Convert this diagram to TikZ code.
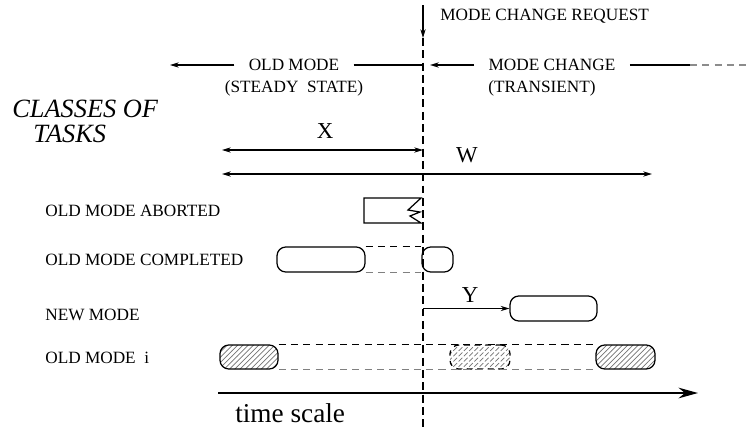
\documentclass[tikz,border=0pt]{standalone}
\usepackage{fontspec}
\setmainfont{Liberation Serif}
\usetikzlibrary{arrows.meta, patterns}

\begin{document}
\begin{tikzpicture}[
  x=0.02cm, y=-0.02cm,
  lbl/.style={inner sep=0pt, font=\fontsize{9.8}{11}\selectfont},
  gap/.style={lbl, inner xsep=8pt},
  big/.style={inner sep=0pt, font=\fontsize{13}{15}\selectfont},
  task/.style={draw, rounded corners=5pt, line width=0.7pt, minimum height=0.5cm, inner sep=0pt},
  hatched/.style={task, minimum height=0.48cm, pattern=north east lines, pattern color=black!55},
  arr/.style={-{Stealth[length=5pt,width=3pt]}, line width=0.6pt},
  darr/.style={{Stealth[length=5pt,width=3pt]}-{Stealth[length=5pt,width=3pt]}, line width=0.6pt},
  vdash/.style={line width=1.6pt, dash pattern=on 4.5pt off 2.5pt},
  gdash/.style={line width=0.6pt, dash pattern=on 4pt off 3pt}
]
\useasboundingbox (0,0) rectangle (750,430);

% mode change request and the dashed time instant
\node[lbl, anchor=west] (req) at (440,16) {MODE CHANGE REQUEST};
\coordinate (top) at (423,5);
\coordinate (mc) at (423,38);
\coordinate (bot) at (423,430);
\draw[arr] (top) -- (mc);
\draw[vdash] (mc) -- (bot);

% old mode / mode change headings
\node[gap] (old) at (294,65) {OLD MODE};
\node[lbl] (steady) at (294,88) {(STEADY\ \ STATE)};
\node[gap] (chg) at (552,65) {MODE CHANGE};
\node[lbl] (trans) at (542,88) {(TRANSIENT)};
\coordinate (oldL) at (170,65);
\coordinate (chgR) at (690,65);
\coordinate (chgE) at (750,65);
\draw[arr] (old.west) -- (oldL);
\draw[line width=0.6pt] (old.east) -- (old.east -| mc);
\draw[arr, line width=1.3pt] (chg.west) -- ([xshift=4pt]chg.west -| mc);
\draw[line width=1.3pt] (chg.east) -- (chgR);
\draw[gdash, black!45] (chgR) -- (chgE);

\node[big, font=\itshape\fontsize{15}{16}\selectfont, align=left, anchor=north west] (classes) at (12,100) {CLASSES OF\\[-2pt]\hspace*{0.8em}TASKS};

% intervals X and W
\coordinate (xl) at (222,150);
\coordinate (wl) at (222,174);
\coordinate (wr) at (652,174);
\node[big] (X) at (325,131) {X};
\node[big] (W) at (467,155) {W};
\draw[darr] (xl) -- (xl -| mc);
\draw[darr, line width=1.4pt] (wl) -- (wr);

% classes of tasks
\node[lbl, anchor=west] (abort) at (45,211) {OLD MODE ABORTED};
\node[lbl, anchor=west] (compl) at (45,260) {OLD MODE COMPLETED};
\node[lbl, anchor=west] (new) at (45,315) {NEW MODE};
\node[lbl, anchor=west] (oldi) at (45,358) {OLD MODE\ \ i};

% aborted job
\draw[line width=0.7pt] (421,198) -- (364,198) -- (364,223) -- (421,223)
  -- (410,216) -- (420,212) -- (408,210) -- cycle;

% completed job
\node[task, minimum width=1.76cm] (c1) at (321,259.5) {};
\node[task, minimum width=0.62cm] (c2) at (437.5,259.5) {};
\draw[gdash] (c1.north east) -- (c2.north west);
\draw[gdash, black!50] (c1.south east) -- (c2.south west);

% new mode job
\node[task, minimum width=1.74cm] (nm) at (553.5,308.5) {};
\draw[arr] (nm.west -| mc) -- (nm.west);
\node[big] (Y) at (470,295) {Y};

% periodic old mode task
\node[hatched, minimum width=1.16cm] (b1) at (249,357) {};
\node[hatched, minimum width=1.2cm, dashed] (b2) at (480,357) {};
\node[hatched, minimum width=1.18cm] (b3) at (625.5,357) {};
\draw[gdash] (b1.north east) -- (b3.north west);
\draw[gdash, black!50] (b1.south east) -- (b3.south west);

% time axis
\coordinate (tl) at (218,393);
\coordinate (tr) at (698,393);
\draw[-{Stealth[length=11pt,width=6pt]}, line width=1.5pt] (tl) -- (tr);
\node[big, font=\fontsize{15.5}{17}\selectfont, anchor=west] (ts) at (235,413) {time scale};
\end{tikzpicture}
\end{document}
